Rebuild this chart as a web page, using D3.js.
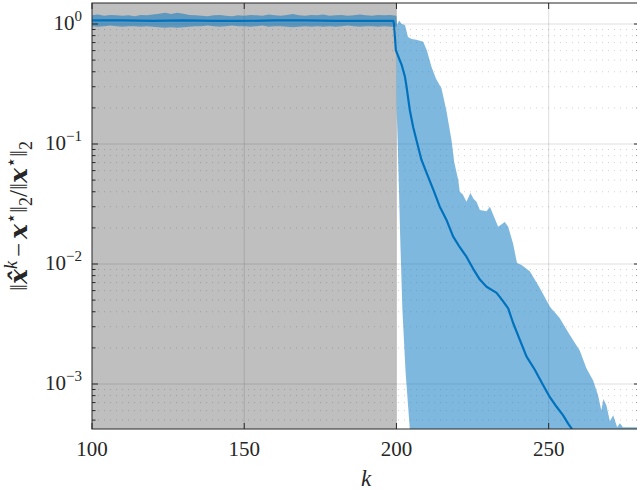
<!DOCTYPE html>
<html><head><meta charset="utf-8">
<script src="https://cdn.jsdelivr.net/npm/d3@7"></script>
<style>body{margin:0;background:#fff}svg{display:block}</style>
</head><body><svg id="c" width="637" height="490"></svg>
<script>
// ---------- data ----------
const xTicks = [100, 150, 200, 250];
const yTickExps = [0, -1, -2, -3];
const shadeRange = [100, 200];

// band during shaded phase (k = 100..200 step 2)
const bandK1 = [100,102,104,106,108,110,112,114,116,118,120,122,124,126,128,130,132,134,136,138,140,142,144,146,148,150,152,154,156,158,160,162,164,166,168,170,172,174,176,178,180,182,184,186,188,190,192,194,196,198,200];
const upper1 = [1.18,1.20,1.17,1.19,1.18,1.17,1.18,1.16,1.19,1.18,1.20,1.22,1.24,1.21,1.24,1.22,1.19,1.18,1.17,1.16,1.18,1.19,1.17,1.16,1.18,1.17,1.19,1.18,1.17,1.20,1.18,1.17,1.19,1.21,1.18,1.17,1.19,1.18,1.20,1.17,1.18,1.19,1.17,1.18,1.20,1.18,1.17,1.19,1.18,1.19,1.17];
const lower1 = [0.96,0.95,0.96,0.97,0.96,0.95,0.96,0.96,0.95,0.96,0.95,0.94,0.93,0.94,0.93,0.94,0.95,0.96,0.96,0.97,0.96,0.95,0.96,0.97,0.96,0.96,0.95,0.96,0.97,0.95,0.96,0.96,0.95,0.94,0.95,0.96,0.95,0.96,0.95,0.96,0.95,0.96,0.97,0.96,0.95,0.96,0.96,0.95,0.96,0.95,0.95];

// upper band after k = 200
const upperK2 = [200.2,200.9,201.7,202.8,203.8,205,206.5,208,208.8,210,211.5,213,214.8,216.4,218.1,219,220.3,220.8,221.8,223,224.3,225.3,226.3,227.4,229.6,230.7,232.3,233.4,235.6,236.7,238.3,239.6,241.1,243.8,247.1,250.4,253.6,256.9,260.2,262.4,264.6,266.2,267.3,268,269,270.1,271.2,272.5,273.4,274.4,280];
const upperV2 = [0.98,1.07,1.0,0.98,0.78,0.75,0.74,0.72,0.71,0.6,0.44,0.35,0.29,0.19,0.107,0.07,0.050,0.040,0.038,0.033,0.039,0.035,0.033,0.0282,0.0275,0.030,0.024,0.0204,0.0224,0.0204,0.0148,0.0102,0.0098,0.0087,0.0063,0.0044,0.00355,0.00257,0.0019,0.00135,0.00107,0.00081,0.00060,0.00075,0.00066,0.00049,0.00055,0.000437,0.00047,0.000437,0.000437];

// lower band after k = 200
const lowerK2 = [200.05,200.4,201.2,201.95,203,204.4,205.5,280];
const lowerV2 = [0.2,0.107,0.0178,0.00417,0.00126,0.000417,0.000158,0.0001];

// mean curve
const meanK = [100,110,120,130,140,150,160,170,180,190,199,199.2,199.8,200.6,201.7,202.8,203.3,204.4,205.5,206.6,207.7,208.2,209.9,212.1,214.2,216.4,218.6,220.8,223,225.2,227.4,229.6,232.9,235,236.7,238.3,240.5,242.7,245.4,248.2,250.4,252.6,254.7,256.4,257.5,259];
const meanV = [1.07,1.07,1.06,1.07,1.06,1.06,1.07,1.07,1.06,1.06,1.06,1.0,0.607,0.537,0.457,0.363,0.302,0.191,0.138,0.107,0.083,0.074,0.0575,0.0417,0.0302,0.0234,0.0170,0.0138,0.0115,0.00912,0.00741,0.00646,0.00575,0.0049,0.00427,0.00324,0.00234,0.0017,0.00132,0.000977,0.000776,0.000646,0.00055,0.000468,0.000427,0.000355];

// ---------- layout ----------
const L = 92, R = 640, T = 3, B = 429;
const svg = d3.select("#c");
const x = d3.scaleLinear().domain([100, 280]).range([L, R]);
const y = d3.scaleLog().domain([Math.pow(10, -3.375), Math.pow(10, 0.175)]).range([B, T]);
const FONT = '"Liberation Serif"';
const BFONT = '"DejaVu Serif"';
const AX = "#262626";

svg.append("defs").append("clipPath").attr("id", "clip")
  .append("rect").attr("x", L).attr("y", T).attr("width", R - L).attr("height", B - T);

const plot = svg.append("g").attr("clip-path", "url(#clip)");

plot.append("rect")
  .attr("x", x(shadeRange[0])).attr("y", T)
  .attr("width", x(shadeRange[1]) - x(shadeRange[0])).attr("height", B - T)
  .attr("fill", "#bfbfbf");

const minorY = [];
for (let e = -4; e <= 0; e++) for (let m = 2; m <= 9; m++) {
  const v = m * Math.pow(10, e);
  if (v > y.domain()[0] && v < y.domain()[1]) minorY.push(v);
}
plot.selectAll(".gmy").data(minorY).join("line")
  .attr("x1", L).attr("x2", R).attr("y1", d => y(d)).attr("y2", d => y(d))
  .attr("stroke", "rgba(25,25,25,0.25)").attr("stroke-width", 0.8)
  .attr("stroke-dasharray", "1,5");
plot.selectAll(".gy").data(yTickExps).join("line")
  .attr("x1", L).attr("x2", R).attr("y1", d => y(Math.pow(10, d))).attr("y2", d => y(Math.pow(10, d)))
  .attr("stroke", "rgba(38,38,38,0.15)").attr("stroke-width", 1);
plot.selectAll(".gx").data(xTicks.filter(d => d > 100)).join("line")
  .attr("y1", T).attr("y2", B).attr("x1", d => x(d)).attr("x2", d => x(d))
  .attr("stroke", "rgba(38,38,38,0.15)").attr("stroke-width", 1);

const upperPts = bandK1.map((k, i) => [k, upper1[i]]).concat(upperK2.map((k, i) => [k, upperV2[i]]));
const lowerPts = bandK1.map((k, i) => [k, lower1[i]]).concat(lowerK2.map((k, i) => [k, lowerV2[i]]));
const poly = upperPts.concat(lowerPts.slice().reverse());
plot.append("path")
  .attr("d", d3.line().x(d => x(d[0])).y(d => y(d[1]))(poly) + "Z")
  .attr("fill", "#0072BD").attr("fill-opacity", 0.5).attr("stroke", "none");

plot.append("path")
  .datum(meanK.map((k, i) => [k, meanV[i]]))
  .attr("d", d3.line().x(d => x(d[0])).y(d => y(d[1])))
  .attr("fill", "none").attr("stroke", "#0072BD").attr("stroke-width", 2.2)
  .attr("stroke-linejoin", "round");

svg.append("rect").attr("x", L).attr("y", T).attr("width", R - L).attr("height", B - T)
  .attr("fill", "none").attr("stroke", AX).attr("stroke-width", 1);

const tk = svg.append("g").attr("stroke", AX).attr("stroke-width", 1);
xTicks.forEach(v => {
  tk.append("line").attr("x1", x(v)).attr("x2", x(v)).attr("y1", B).attr("y2", B - 6);
  tk.append("line").attr("x1", x(v)).attr("x2", x(v)).attr("y1", T).attr("y2", T + 6);
});
yTickExps.forEach(e => {
  const p = y(Math.pow(10, e));
  tk.append("line").attr("x1", L).attr("x2", L + 6).attr("y1", p).attr("y2", p);
  tk.append("line").attr("x1", R).attr("x2", R - 6).attr("y1", p).attr("y2", p);
});
minorY.forEach(v => {
  const p = y(v);
  tk.append("line").attr("x1", L).attr("x2", L + 3.5).attr("y1", p).attr("y2", p);
  tk.append("line").attr("x1", R).attr("x2", R - 3.5).attr("y1", p).attr("y2", p);
});

svg.selectAll(".xl").data(xTicks).join("text")
  .attr("x", d => x(d)).attr("y", B + 27)
  .attr("text-anchor", "middle").style("font-family", FONT).style("font-size", "21px")
  .style("fill", AX).text(d => d);

yTickExps.forEach(e => {
  const t = svg.append("text").attr("x", 82).attr("y", y(Math.pow(10, e)) + 6)
    .attr("text-anchor", "end").style("font-family", FONT).style("font-size", "21px").style("fill", AX);
  t.append("tspan").text("10");
  t.append("tspan").attr("dy", -9).style("font-size", "15px").text(e === 0 ? "0" : "\u2212" + (-e));
});

svg.append("text").attr("x", (L + R) / 2).attr("y", 486)
  .attr("text-anchor", "middle").style("font-family", FONT).style("font-size", "23px")
  .style("font-style", "italic").style("fill", AX).text("k");

const yl = svg.append("text")
  .attr("transform", `translate(27,${(T + B) / 2}) rotate(-90)`)
  .attr("text-anchor", "middle").style("font-family", FONT).style("font-size", "25px").style("fill", AX);
function sp(txt, opts = {}) {
  const s = yl.append("tspan").text(txt);
  if (opts.b) s.style("font-family", BFONT).style("font-weight", "bold").style("font-style", "italic");
  if (opts.i) s.style("font-style", "italic");
  if (opts.dy) s.attr("dy", opts.dy);
  if (opts.dx) s.attr("dx", opts.dx);
  if (opts.fs) s.style("font-size", opts.fs + "px");
  return s;
}
sp("\u2016");
sp("x\u0302", {b: true});
sp("k", {i: true, dy: -10, fs: 18});
sp("\u2212", {dy: 10, dx: 4});
sp("x", {b: true, dx: 4});
sp("\u22C6", {dy: -10, fs: 18});
sp("\u2016", {dy: 10});
sp("2", {dy: 5, fs: 18});
sp("/", {dy: -5});
sp("\u2016");
sp("x", {b: true});
sp("\u22C6", {dy: -10, fs: 18});
sp("\u2016", {dy: 10});
sp("2", {dy: 5, fs: 18});
</script>
</body></html>
